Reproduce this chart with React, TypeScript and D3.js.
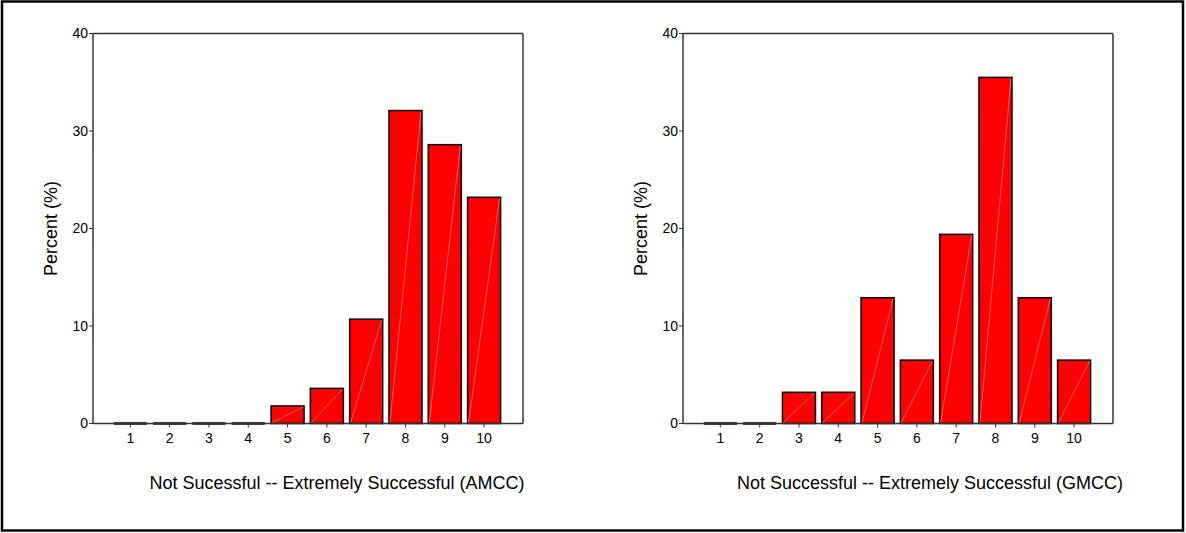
import React from "react";
import * as d3 from "d3";

const categories = [1, 2, 3, 4, 5, 6, 7, 8, 9, 10];
const amccPercent = [0, 0, 0, 0, 1.8, 3.6, 10.7, 32.1, 28.6, 23.2];
const gmccPercent = [0, 0, 3.2, 3.2, 12.9, 6.5, 19.4, 35.5, 12.9, 6.5];
const yTicks = [0, 10, 20, 30, 40];
const amccTitle = "Not Sucessful -- Extremely Successful (AMCC)";
const gmccTitle = "Not Successful -- Extremely Successful (GMCC)";
const yTitle = "Percent (%)";

const FONT = "'Liberation Sans', Arial, Helvetica, sans-serif";

function Panel({ x0, values, title, titleX }: { x0: number; values: number[]; title: string; titleX: number }) {
  const x1 = x0 + 430;
  const yTop = 33.5;
  const yBase = 423.5;
  const x = d3.scaleLinear().domain([0.05, 10.99]).range([x0, x1]);
  const y = d3.scaleLinear().domain([0, 40]).range([yBase, yTop]);
  const bw = 0.84 * (x(2) - x(1));
  return (
    <g>
      {categories.map((c, i) => {
        const left = x(c) - bw / 2;
        const top = y(values[i]);
        const h = yBase - top;
        return (
          <g key={c}>
            {h > 0 ? (
              <>
                <rect x={left} y={top} width={bw} height={h} fill="#ff0000" stroke="#000" strokeWidth={1.5} />
                <line x1={left + 1} y1={yBase - 1} x2={left + bw - 1} y2={top + 1} stroke="#ff8a8a" strokeWidth={0.7} />
              </>
            ) : (
              <line x1={left} y1={yBase} x2={left + bw} y2={yBase} stroke="#000" strokeWidth={2.5} />
            )}
          </g>
        );
      })}
      <line x1={x0} y1={yTop} x2={x1} y2={yTop} stroke="#333" strokeWidth={1.5} />
      <line x1={x1} y1={yTop} x2={x1} y2={yBase} stroke="#333" strokeWidth={1.5} />
      <line x1={x0} y1={yTop} x2={x0} y2={yBase} stroke="#333" strokeWidth={1.5} />
      <line x1={x0} y1={yBase} x2={x1} y2={yBase} stroke="#333" strokeWidth={1.5} />
      {yTicks.map((t) => (
        <g key={t}>
          <line x1={x0 - 4} y1={y(t)} x2={x0} y2={y(t)} stroke="#333" strokeWidth={1} />
          <text x={x0 - 5} y={y(t)} dy="0.35em" textAnchor="end" fontSize={14} fontFamily={FONT} fill="#000">
            {t}
          </text>
        </g>
      ))}
      {categories.map((c) => (
        <g key={"t" + c}>
          <line x1={x(c)} y1={yBase} x2={x(c)} y2={yBase + 4} stroke="#333" strokeWidth={1} />
          <text x={x(c)} y={yBase + 19} textAnchor="middle" fontSize={14} fontFamily={FONT} fill="#000">
            {c}
          </text>
        </g>
      ))}
      <text
        transform={`translate(${x0 - 36},${(yTop + yBase) / 2}) rotate(-90)`}
        textAnchor="middle"
        fontSize={18}
        fontFamily={FONT}
        fill="#000"
      >
        {yTitle}
      </text>
      <text x={titleX} y={489} textAnchor="middle" fontSize={18} fontFamily={FONT} fill="#000">
        {title}
      </text>
    </g>
  );
}

export default function App() {
  return (
    <svg width={1186} height={533} style={{ position: "absolute", left: 0, top: 0, background: "#fff" }}>
      <rect x={0} y={0} width={1186} height={533} fill="#fff" />
      <rect x={2} y={1.5} width={1181} height={529} fill="none" stroke="#000" strokeWidth={2.5} />
      <Panel x0={93} values={amccPercent} title={amccTitle} titleX={337} />
      <Panel x0={683} values={gmccPercent} title={gmccTitle} titleX={930} />
    </svg>
  );
}
